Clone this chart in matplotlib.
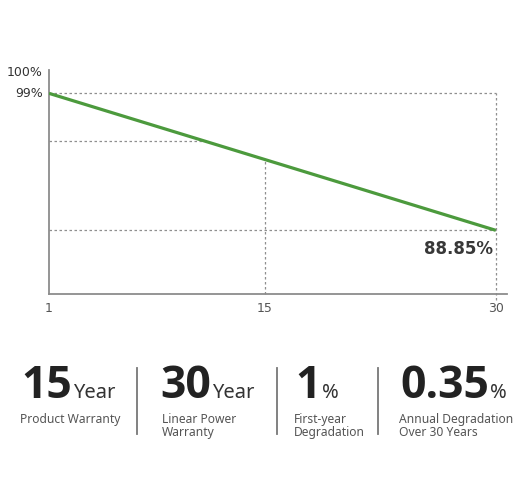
import matplotlib
matplotlib.use("Agg")
import matplotlib.pyplot as plt
from matplotlib.lines import Line2D

# warranty curve
years = [1, 30]
power = [99, 88.85]
mid_year = 15
mid_power = 94.1
ref_power = 95.45          # the short dashed guide on the left
ref_year = 1 + (99 - ref_power) / 0.35
x_ticks = [1, 15, 30]
end_label = "88.85%"

# bottom figures
big_numbers = ["15", "30", "1", "0.35"]
units = ["Year", "Year", "%", "%"]
captions = [["Product Warranty"], ["Linear Power", "Warranty"],
            ["First-year", "Degradation"], ["Annual Degradation", "Over 30 Years"]]

W, H = 523, 490
fig = plt.figure(figsize=(W / 100, H / 100), dpi=100)
ax = fig.add_axes([49 / W, 1 - 294 / H, 458 / W, 224 / H])

green = "#4c9a3d"
grid_c = "#8f8f8f"
dash = (0, (2, 2))

ax.plot(years, power, color=green, lw=2.3, solid_capstyle="butt", zorder=3)

# dashed guides
ax.plot([1, 30], [99, 99], color=grid_c, lw=0.9, ls=dash)
ax.plot([1, 30], [88.85, 88.85], color=grid_c, lw=0.9, ls=dash)
ax.plot([1, ref_year], [ref_power, ref_power], color=grid_c, lw=0.9, ls=dash)
ax.plot([mid_year, mid_year], [84.13, mid_power], color=grid_c, lw=0.9, ls=dash, clip_on=False)
ax.plot([30, 30], [83.7, 99], color=grid_c, lw=0.9, ls=dash, clip_on=False)

ax.set_xlim(1, 30.73)
ax.set_ylim(84.13, 100.73)
for s in ["top", "right"]:
    ax.spines[s].set_visible(False)
for s in ["left", "bottom"]:
    ax.spines[s].set_color("#8c8c8c")
    ax.spines[s].set_linewidth(1.3)

ax.set_xticks(x_ticks)
ax.set_xticklabels([str(t) for t in x_ticks])
ax.tick_params(axis="x", length=0, pad=6, labelsize=9, labelcolor="#555555")
ax.set_yticks([])

ax.text(0.6, 99, "99%", ha="right", va="center", fontsize=9, color="#333333", clip_on=False)
ax.text(0.6, 100.55, "100%", ha="right", va="center", fontsize=9, color="#333333", clip_on=False)
ax.text(29.85, 87.5, end_label, ha="right", va="center", fontsize=12, color="#383838",
        fontweight="bold")


def px(x, y):
    return x / W, 1 - y / H


num_x = [21, 160, 295, 400]
cap_x = [20, 162, 294, 399]
base = 398
fig.canvas.draw()
r = fig.canvas.get_renderer()
for n, u, c, nx, cx in zip(big_numbers, units, captions, num_x, cap_x):
    t = fig.text(*px(nx, base), n, fontsize=32, fontweight="bold", color="#222222",
                 family=["Open Sans", "DejaVu Sans"], va="baseline", ha="left")
    right = t.get_window_extent(renderer=r).x1
    fig.text(right / W + 1.5 / W, 1 - base / H, u, fontsize=14.5, color="#333333",
             family="Noto Sans", va="baseline", ha="left")
    for i, line in enumerate(c):
        fig.text(*px(cx, 423 + i * 13), line, fontsize=8.7, color="#555555",
                 family="Noto Sans", va="baseline", ha="left")

for sx in [137, 277, 378]:
    fig.add_artist(Line2D([sx / W, sx / W], [1 - 368 / H, 1 - 434 / H],
                          color="#777777", lw=1.3, transform=fig.transFigure))

fig.savefig("out.png", dpi=100)
